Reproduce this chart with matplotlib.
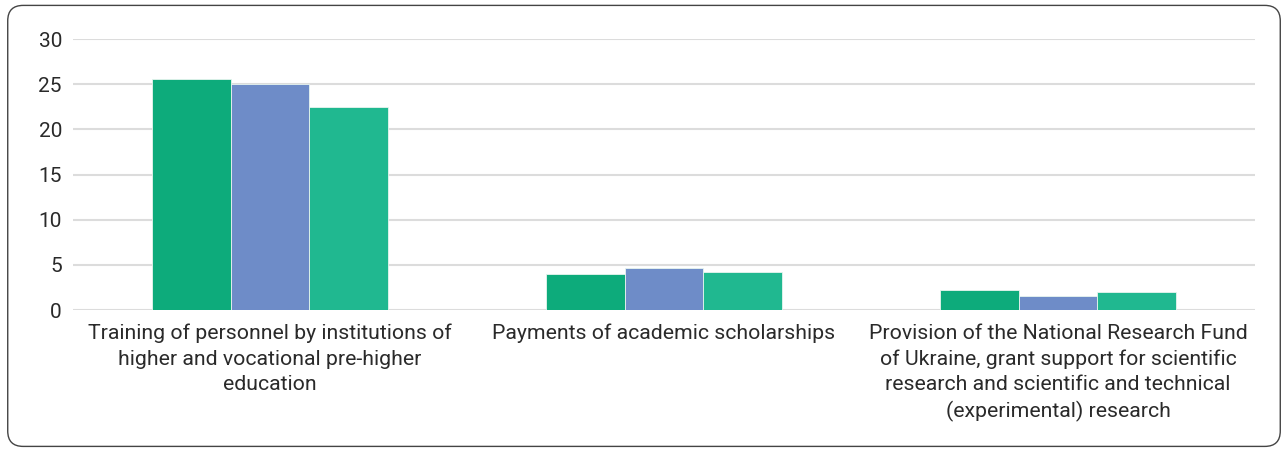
import matplotlib.pyplot as plt
from matplotlib.patches import FancyBboxPatch
import numpy as np

plt.rcParams['font.family'] = ['Roboto', 'DejaVu Sans']

categories = [
    "Training of personnel by institutions of\nhigher and vocational pre-higher\neducation",
    "Payments of academic scholarships",
    "Provision of the National Research Fund\nof Ukraine, grant support for scientific\nresearch and scientific and technical\n(experimental) research",
]
series_a = [25.6, 3.95, 2.2]
series_b = [25.0, 4.65, 1.55]
series_c = [22.5, 4.2, 2.0]
y_ticks = [0, 5, 10, 15, 20, 25, 30]

colors = ['#0dab7b', '#6e8cc8', '#20b890']

fig = plt.figure(figsize=(12.88, 4.5), dpi=100)
ax = fig.add_axes([0.0567, 0.311, 0.9177, 0.602])

# Rounded frame around the whole chart
frame = FancyBboxPatch((0.006, 0.008), 0.988, 0.98, boxstyle="round,pad=0,rounding_size=0.012",
                       transform=fig.transFigure, fill=False, edgecolor='#444444', linewidth=1.0,
                       mutation_aspect=1288 / 450)
fig.patches.append(frame)

x = np.arange(len(categories))
w = 0.2
for i, (vals, col) in enumerate(zip([series_a, series_b, series_c], colors)):
    ax.bar(x + (i - 1) * w, vals, width=w, color=col, edgecolor='#e8f5ef', linewidth=0.6, zorder=3)

ax.set_xlim(-0.5, len(categories) - 0.5)
ax.set_ylim(0, 30)
ax.set_yticks(y_ticks)
ax.set_xticks(x)
ax.set_xticklabels(categories, fontsize=15.3, color='#2a2a2a', linespacing=1.42)
ax.tick_params(axis='y', labelsize=15, labelcolor='#2a2a2a', length=0, pad=8)
ax.tick_params(axis='x', length=0, pad=10)
ax.grid(axis='y', color='#dcdcdc', linewidth=1.5, zorder=0)
for s in ax.spines.values():
    s.set_visible(False)

plt.savefig('out.png', dpi=100)
